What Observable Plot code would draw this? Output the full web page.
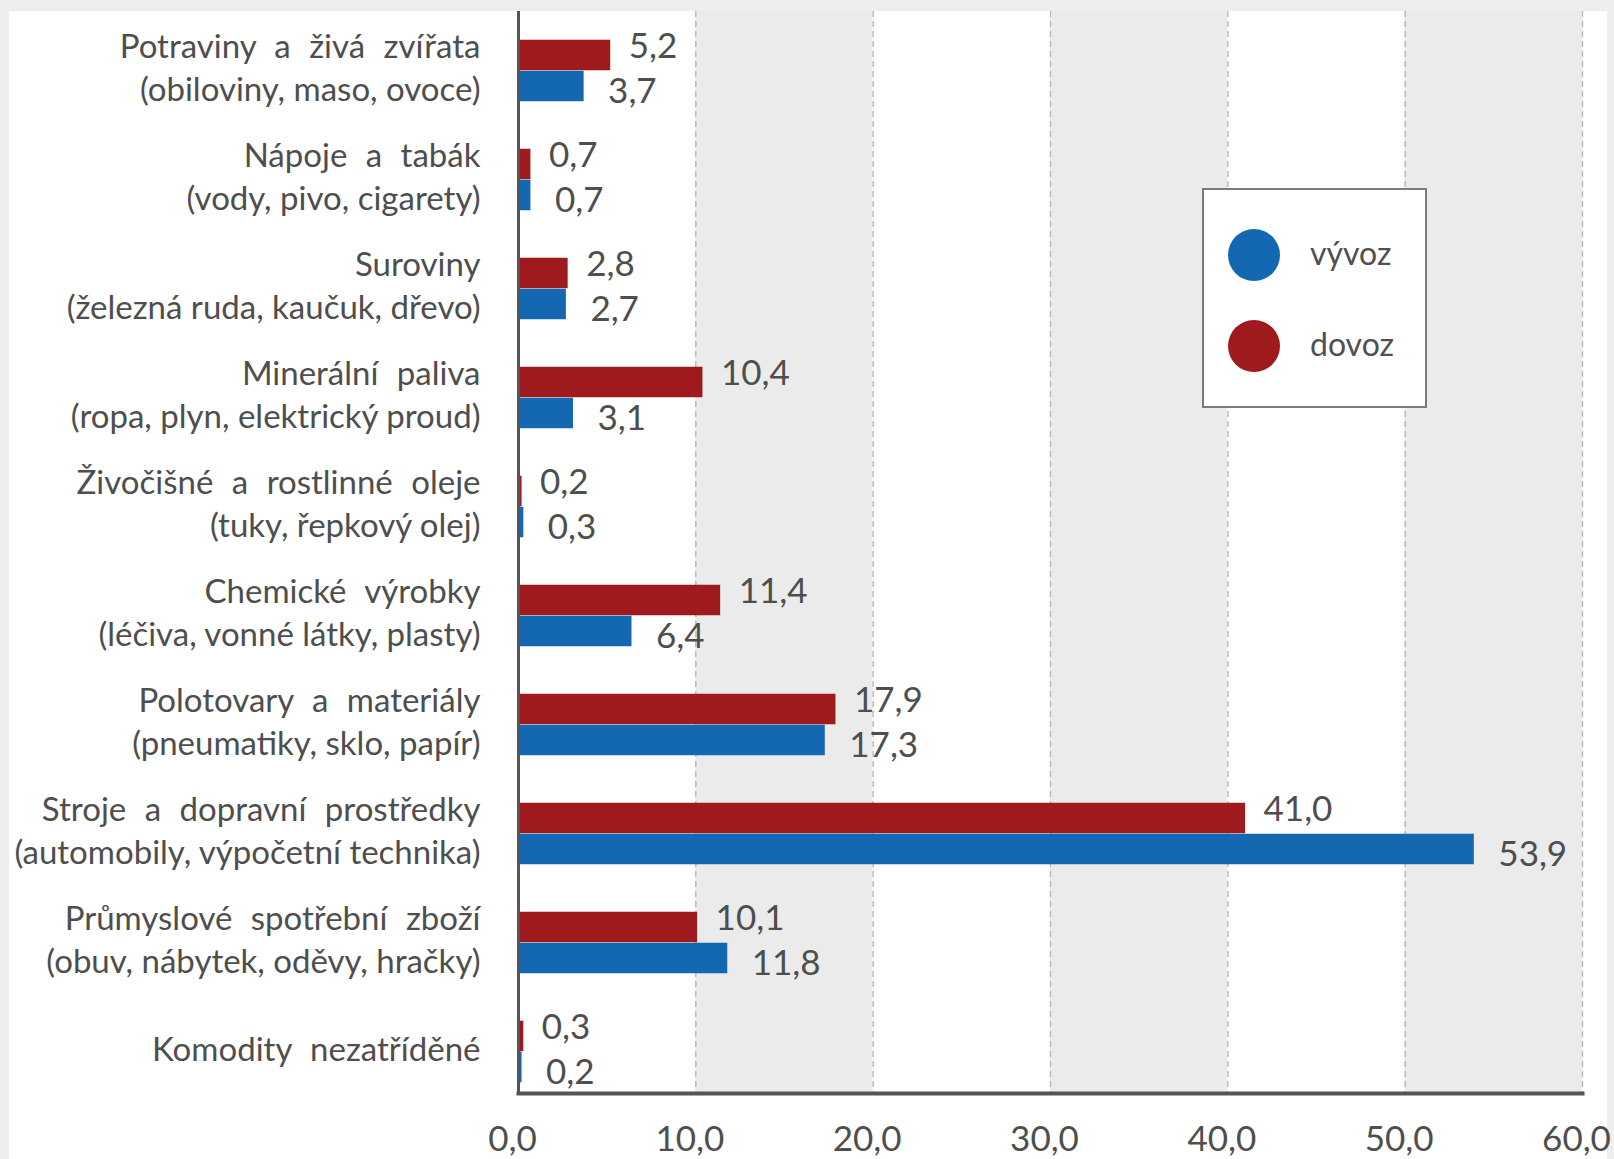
<!DOCTYPE html>
<html>
<head>
<meta charset="utf-8">
<script src="https://cdn.jsdelivr.net/npm/d3@7"></script>
<script src="https://cdn.jsdelivr.net/npm/@observablehq/plot@0.6"></script>
<style>
  html, body { margin: 0; padding: 0; }
  body { background: #eeeeee; width: 1614px; height: 1159px; overflow: hidden; font-family: Lato, "Open Sans", sans-serif; }
  #panel { position: absolute; left: 9px; top: 11px; width: 1598px; height: 1148px; background: #ffffff; overflow: visible; }
  #chart svg { overflow: visible; }
  #legend { position: absolute; left: 1193px; top: 177px; width: 221px; height: 216px; border: 2px solid #7a7a7a; background: #fff; }
  .dot { position: absolute; width: 52px; height: 52px; border-radius: 50%; left: 24px; }
  .lab { position: absolute; left: 106px; font-size: 32px; color: #505050; font-family: Lato, sans-serif; line-height: 1; }
</style>
</head>
<body>
<div id="panel">
  <div id="chart"></div>
  <div id="legend"></div>
</div>
<script>
const categories = [
  "Potraviny a živá zvířata\n(obiloviny, maso, ovoce)",
  "Nápoje a tabák\n(vody, pivo, cigarety)",
  "Suroviny\n(železná ruda, kaučuk, dřevo)",
  "Minerální paliva\n(ropa, plyn, elektrický proud)",
  "Živočišné a rostlinné oleje\n(tuky, řepkový olej)",
  "Chemické výrobky\n(léčiva, vonné látky, plasty)",
  "Polotovary a materiály\n(pneumatiky, sklo, papír)",
  "Stroje a dopravní prostředky\n(automobily, výpočetní technika)",
  "Průmyslové spotřební zboží\n(obuv, nábytek, oděvy, hračky)",
  "Komodity nezatříděné"
];
const vyvoz = [3.7, 0.7, 2.7, 3.1, 0.3, 6.4, 17.3, 53.9, 11.8, 0.2];
const dovoz = [5.2, 0.7, 2.8, 10.4, 0.2, 11.4, 17.9, 41.0, 10.1, 0.3];
const xTicks = [0, 10, 20, 30, 40, 50, 60];
const shadeFrom = [10, 30, 50];
const shadeTo = [20, 40, 60];
const seriesNames = ["vývoz", "dovoz"];
const seriesColors = ["#1467b1", "#9e1a1c"];

const fmt = d => d.toFixed(1).replace(".", ",");
const rowsV = categories.map((c, i) => ({cat: c, value: vyvoz[i]}));
const rowsD = categories.map((c, i) => ({cat: c, value: dovoz[i]}));
const shades = shadeFrom.map((a, i) => ({x1: a, x2: shadeTo[i]}));

const textColor = "#4e4e4e";
const half = 109.5 / 2;
const barH = 31;

const chart = Plot.plot({
  width: 1598,
  height: 1148,
  marginLeft: 509,
  marginRight: 25,
  marginTop: 0,
  marginBottom: 66,
  style: {fontFamily: "Lato, 'Open Sans', sans-serif", color: textColor, background: "transparent", overflow: "visible"},
  x: {domain: [0, 60], axis: null},
  y: {domain: categories, range: [2.25, 1097], padding: 0, axis: null},
  marks: [
    Plot.rect(shades, {x1: "x1", x2: "x2", fill: "#ebebeb"}),
    Plot.ruleX(xTicks.slice(1), {stroke: "#b4b4b4", strokeWidth: 1.3, strokeDasharray: "6,4"}),
    Plot.barX(rowsD, {x: "value", y: "cat", fill: seriesColors[1], insetTop: half - barH, insetBottom: half}),
    Plot.barX(rowsV, {x: "value", y: "cat", fill: seriesColors[0], insetTop: half, insetBottom: half - barH}),
    Plot.text(rowsD, {x: "value", y: "cat", text: d => fmt(d.value), textAnchor: "start", dx: 18, dy: -24, fontSize: 35, fill: textColor}),
    Plot.text(rowsV, {x: "value", y: "cat", text: d => fmt(d.value), textAnchor: "start", dx: 24, dy: 21, fontSize: 35, fill: textColor}),
    Plot.text(categories, {x: 0, y: d => d, text: d => d, textAnchor: "end", dx: -38, dy: -5, lineHeight: 1.28, fontSize: 33, fill: textColor, ariaLabel: "cats"}),
    Plot.ruleX([0], {stroke: "#555555", strokeWidth: 3}),
    Plot.frame({anchor: "bottom", stroke: "#555555", strokeWidth: 4}),
    Plot.axisX(xTicks, {tickSize: 0, tickPadding: 33, tickFormat: fmt, fontSize: 35, dx: -6, label: null, fill: textColor})
  ]
});
document.getElementById("chart").appendChild(chart);

// wider word spacing on the first line of each category label
const firstLines = new Set(categories.map(c => c.split("\n")[0]));
d3.select(chart).selectAll("text").each(function() {
  const ts = this.querySelectorAll("tspan");
  const target = ts.length ? ts[0] : this;
  if (firstLines.has(target.textContent)) {
    target.setAttribute("word-spacing", "10");
    target.style.wordSpacing = "10px";
  }
});

const legend = document.getElementById("legend");
const tops = [39, 130];
const labTops = [47, 138];
[0, 1].forEach((k, i) => {
  const dot = document.createElement("div");
  dot.className = "dot";
  dot.style.top = tops[i] + "px";
  dot.style.background = seriesColors[k];
  legend.appendChild(dot);
  const lab = document.createElement("div");
  lab.className = "lab";
  lab.style.top = labTops[i] + "px";
  lab.textContent = seriesNames[k];
  legend.appendChild(lab);
});
</script>
</body>
</html>
